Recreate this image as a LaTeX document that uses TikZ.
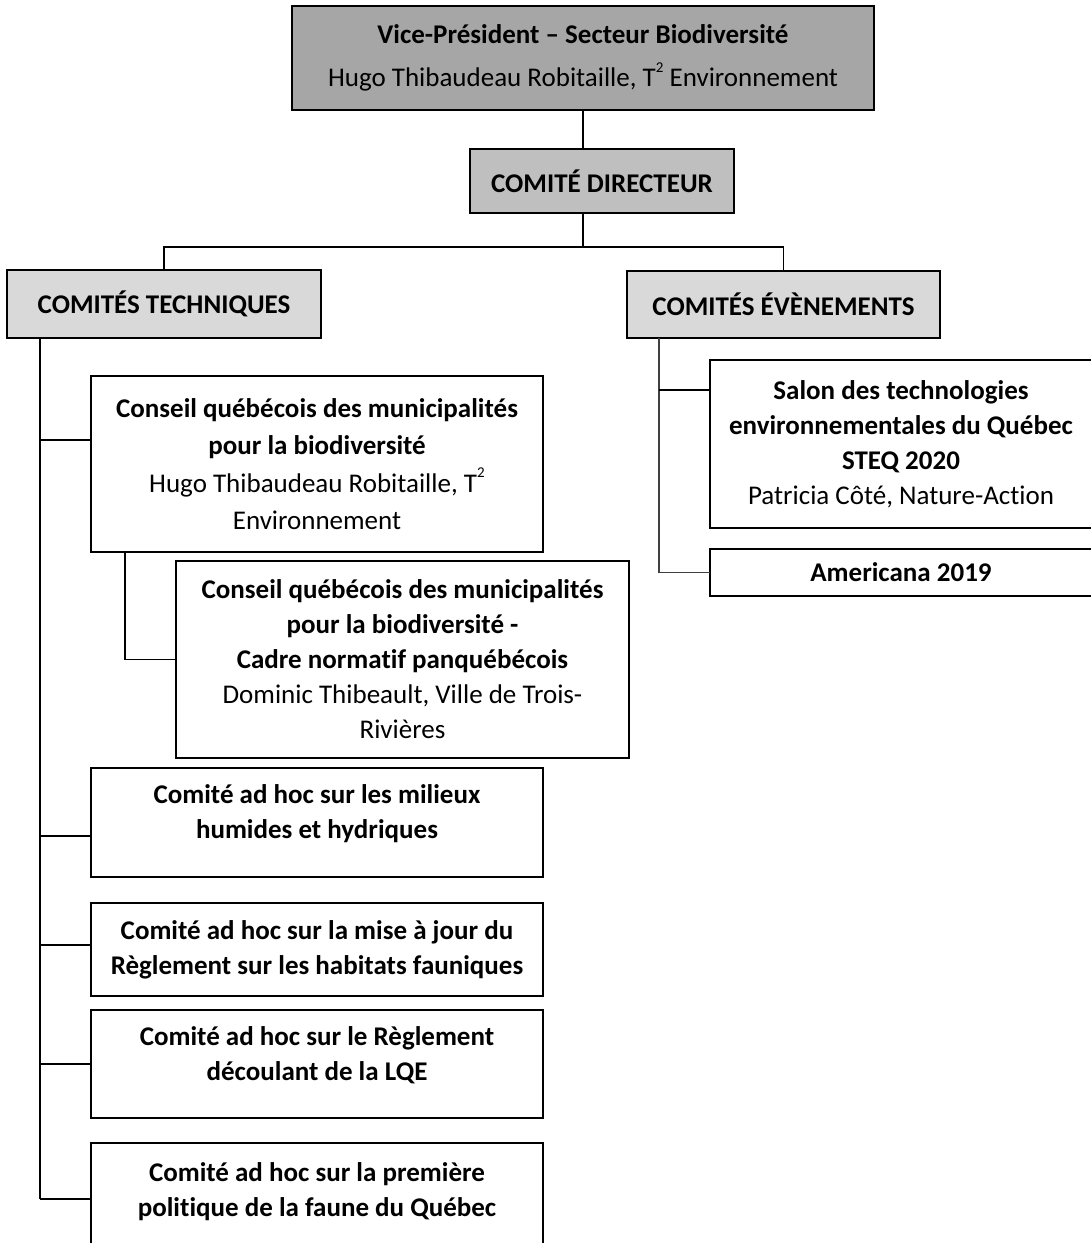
\documentclass[tikz,border=0pt]{standalone}
\usepackage{fontspec}
\setmainfont{Carlito}[Ligatures=CommonOff]
\usetikzlibrary{calc,positioning}

\definecolor{vpGray}{HTML}{A6A6A6}
\definecolor{dirGray}{HTML}{BFBFBF}
\definecolor{comGray}{HTML}{D9D9D9}

\newcommand{\supTwo}{\raisebox{1.1ex}{\fontsize{15}{15}\selectfont 2}}

\begin{document}
\begin{tikzpicture}[x=1pt,y=-1pt,
  every node/.style={font=\fontsize{27}{35}\selectfont},
  orgbox/.style={draw, line width=2.2pt, align=center, anchor=north west, inner sep=0pt, outer sep=0pt},
  bold/.style={font=\fontsize{27}{35}\selectfont\bfseries},
  link/.style={line width=1.8pt}]

\useasboundingbox (0,0) rectangle (1091,1243);
\clip (0,0) rectangle (1091,1243);

%% top of the chart
\node[orgbox, fill=vpGray, minimum width=582pt, minimum height=104pt, font=\fontsize{27}{43}\selectfont] (vp) at (292,6)
  {\textbf{Vice-Président – Secteur Biodiversité}\\Hugo Thibaudeau Robitaille, T\supTwo\ Environnement};
\node[orgbox, bold, fill=dirGray, minimum width=264pt, minimum height=64pt] (dir) at (470,149) {COMITÉ DIRECTEUR};
\node[orgbox, bold, fill=comGray, minimum width=314pt, minimum height=68pt] (tech) at (7,270) {COMITÉS TECHNIQUES};
\node[orgbox, bold, fill=comGray, minimum width=313pt, minimum height=67pt] (even) at (627,271) {COMITÉS ÉVÈNEMENTS};

\coordinate (split) at ([yshift=-137pt]vp.south);
\draw[link] (vp.south) -- (vp.south |- dir.north);
\draw[link] (vp.south |- dir.south) -- (split);
\draw[link] (tech.north) |- (split) -| (even.north);

%% technical committees
\coordinate (tspine) at ([xshift=33pt]tech.south west);
\draw[link] (tspine) -- ++(0,861);

\node[orgbox, minimum width=452pt, minimum height=176pt, font=\fontsize{27}{37.5}\selectfont] (cqmb) at (91,376)
  {\textbf{Conseil québécois des municipalités}\\\textbf{pour la biodiversité}\\Hugo Thibaudeau Robitaille, T\supTwo\\Environnement};
\draw[link] ([yshift=-64pt]cqmb.north west) -- ++(-51,0);

\node[orgbox, minimum width=453pt, minimum height=197pt] (cadre) at (176,561)
  {\textbf{Conseil québécois des municipalités}\\\textbf{pour la biodiversité -}\\\textbf{Cadre normatif panquébécois}\\Dominic Thibeault, Ville de Trois-\\Rivières};
\draw[link] ([xshift=34pt]cqmb.south west) |- (cadre.west);

\foreach \bname/\ytop/\hgt/\ylink/\ctext in {
  milieux/768/109/836/{Comité ad hoc sur les milieux\\humides et hydriques\\[-14pt]\mbox{}},
  habitats/903/93/945/{Comité ad hoc sur la mise à jour du\\Règlement sur les habitats fauniques},
  lqe/1010/108/1064/{Comité ad hoc sur le Règlement\\découlant de la LQE\\[-14pt]\mbox{}},
  politique/1143/129/1199/{Comité ad hoc sur la première\\politique de la faune du Québec\\\mbox{}}}
{
  \node[orgbox, bold, minimum width=452pt, minimum height=\hgt pt] (box-\bname) at (91,\ytop) {\ctext};
  \path (box-\bname.north west) ++(0,\ylink-\ytop) coordinate (in-\bname);
  \draw[link] (in-\bname) -- ++(-51,0);
}

%% events
\node[orgbox, minimum width=382pt, minimum height=168pt] (steq) at (710,360)
  {\textbf{Salon des technologies}\\\textbf{environnementales du Québec}\\\textbf{STEQ 2020}\\Patricia Côté, Nature-Action};
\node[orgbox, bold, minimum width=382pt, minimum height=47pt] (americana) at (710,549) {Americana 2019};

\coordinate (espine) at ([xshift=32pt]even.south west);
\draw[link, black!75] (espine) |- (americana.west);
\draw[link] ([yshift=-30pt]steq.north west) -- ++(-51,0);
\end{tikzpicture}
\end{document}
